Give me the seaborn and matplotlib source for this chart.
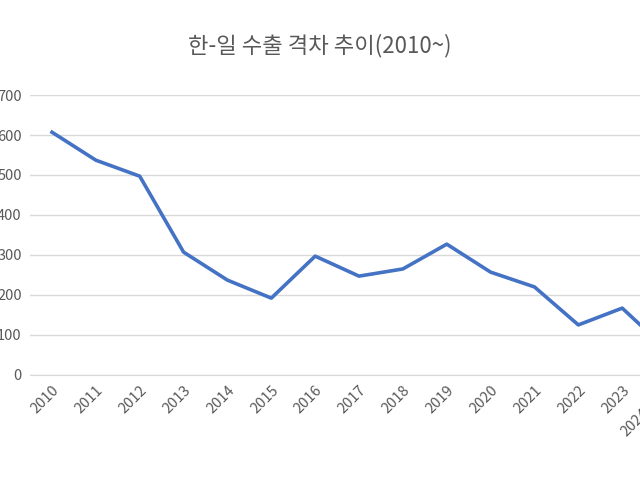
import matplotlib
matplotlib.use("Agg")
import matplotlib.pyplot as plt
import seaborn as sns
import pandas as pd

years = [str(y) for y in range(2010, 2025)]
gap = [607, 537, 497, 307, 237, 192, 297, 247, 265, 327, 257, 220, 125, 167, 65]
yticks = [0, 100, 200, 300, 400, 500, 600, 700]

df = pd.DataFrame({"year": years, "gap": gap})
df["pos"] = range(len(years))

plt.rcParams["font.family"] = "Noto Sans CJK KR"
fig = plt.figure(figsize=(6.4, 4.8), dpi=100)
ax = fig.add_axes([0.047, 0.219, 1.028, 0.583])

sns.lineplot(data=df, x="pos", y="gap", ax=ax, color="#4472C4", linewidth=2.6)

ax.set_xlim(-0.5, len(years) - 0.5)
ax.set_ylim(0, 700)
ax.set_yticks(yticks)
ax.set_yticklabels([str(v) for v in yticks], color="#595959", fontsize=10.5)
ax.set_xticks(df["pos"])
ax.set_xticklabels(years[:-1] + [""], rotation=45, ha="right", rotation_mode="anchor",
                   color="#595959", fontsize=10.5)
# the last year label is pushed down a row and sits at the right edge
ax.text(len(years) - 1.45, -0.13, years[-1], transform=ax.get_xaxis_transform(),
        rotation=45, ha="right", va="center", rotation_mode="anchor",
        color="#595959", fontsize=10.5)
ax.grid(axis="y", color="#D9D9D9", linewidth=1)
ax.set_axisbelow(True)
for s in ax.spines.values():
    s.set_visible(False)
ax.spines["bottom"].set_visible(True)
ax.spines["bottom"].set_color("#D9D9D9")
ax.tick_params(length=0, pad=6)
ax.set_xlabel("")
ax.set_ylabel("")

fig.text(0.5, 0.905, "한-일 수출 격차 추이(2010~)", ha="center", va="center",
         fontsize=16, color="#595959")

fig.savefig("out.png", dpi=100)
